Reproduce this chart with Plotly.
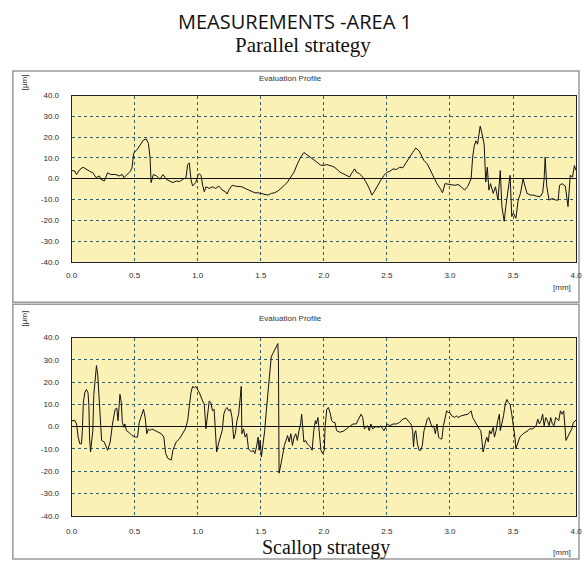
import plotly.graph_objects as go

# ---- data: Parallel strategy profile (x in mm, height in um) ----
par_x = [0.0, 0.026, 0.039, 0.065, 0.091, 0.117, 0.142, 0.168, 0.194, 0.220, 0.233, 0.259, 0.285, 0.311,
         0.350, 0.376, 0.402, 0.415, 0.440, 0.466, 0.479, 0.492, 0.518, 0.544, 0.570, 0.591, 0.609, 0.622,
         0.630, 0.648, 0.674, 0.699, 0.725, 0.751, 0.777, 0.803, 0.829, 0.855, 0.881, 0.907, 0.920, 0.933,
         0.946, 0.959, 0.984, 1.000,
         1.013, 1.026, 1.039, 1.052, 1.065, 1.091, 1.117, 1.142, 1.168, 1.194, 1.220, 1.233, 1.246, 1.272,
         1.298, 1.324, 1.350, 1.376, 1.402, 1.427, 1.453, 1.479, 1.505, 1.531, 1.557, 1.583, 1.609, 1.635,
         1.661, 1.687, 1.712, 1.738, 1.764, 1.790, 1.816, 1.842, 1.868, 1.894, 1.920, 1.946, 1.972, 1.997,
         2.023, 2.049, 2.075, 2.101, 2.127, 2.153, 2.179, 2.205, 2.218, 2.244, 2.256, 2.282, 2.308, 2.334,
         2.360, 2.381, 2.399, 2.425, 2.451, 2.477, 2.503,
         2.523, 2.549, 2.575, 2.601, 2.626, 2.652, 2.678, 2.704, 2.729, 2.755, 2.781, 2.794, 2.820, 2.845,
         2.871, 2.897, 2.923, 2.941, 2.961, 2.987, 3.013, 3.039, 3.064, 3.090, 3.116, 3.142, 3.168, 3.180,
         3.193, 3.206, 3.219, 3.232, 3.240, 3.253, 3.271, 3.284, 3.296, 3.309, 3.322, 3.343, 3.361, 3.381,
         3.399, 3.412, 3.430, 3.443, 3.456, 3.477, 3.490, 3.503, 3.523, 3.541, 3.559, 3.580, 3.593, 3.611,
         3.637, 3.662, 3.688, 3.714, 3.735, 3.747, 3.755, 3.768, 3.786, 3.812, 3.838, 3.858, 3.869, 3.889,
         3.915, 3.936, 3.954, 3.972, 3.987, 4.000]
par_y = [4.0, 3.6, 2.0, 4.4, 5.5, 4.4, 3.6, 2.8, 0.5, 1.3, -0.3, -1.1, 2.8, 2.0,
         2.0, 1.3, 2.0, 0.5, 2.0, 3.6, 5.2, 12.3, 13.9, 16.3, 18.6, 19.1, 17.0, 10.0,
         -1.9, 2.0, 1.3, -0.3, 2.0, -0.3, -1.1, -1.9, -1.1, -1.4, -0.3, 0.5, 6.8, 7.6,
         -0.3, -3.5, -1.9, 1.3,
         2.4, 1.6, -3.2, -6.3, -3.9, -4.7, -3.9, -4.7, -3.6, -5.5, -6.3, -7.4, -5.5, -3.2,
         -3.6, -3.6, -3.9, -4.7, -5.5, -6.3, -6.8, -6.8, -7.1, -7.6, -7.9, -7.1, -6.8, -6.0,
         -4.7, -3.2, -1.6, 0.8, 3.2, 7.1, 10.3, 12.6, 11.5, 10.3, 9.0, 7.9, 6.6, 6.3,
         6.8, 6.3, 5.8, 4.7, 3.2, 2.4, 1.6, 0.8, 2.4, 4.7, 3.2, 2.4, 0.8, -1.6,
         -4.7, -7.9, -6.3, -3.2, -0.8, 1.6, 3.2,
         3.5, 4.7, 4.4, 5.5, 5.2, 7.9, 10.3, 12.6, 14.7, 13.4, 10.3, 8.7, 7.1, 3.9,
         0.8, -2.4, -4.7, -6.8, -2.4, -2.7, -2.8, -3.2, -2.8, -3.9, -5.5, -3.6, 0.0, 10.3,
         15.8, 18.2, 16.6, 21.3, 25.3, 22.1, 16.6, -1.6, 5.5, -5.5, -2.4, -7.1, -3.9, -10.3,
         3.9, -13.4, -20.5, -13.4, -7.1, 1.6, -18.2, -16.6, -19.0, -10.3, -7.1, 0.0, -3.2, -7.1,
         -7.9, -7.9, -8.4, -8.7, -6.8, 0.0, 10.3, -3.9, -10.3, -9.5, -10.3, -10.3, -3.2, -2.4,
         -3.6, -13.4, 1.6, 0.8, 6.3, 3.9]

# ---- data: Scallop strategy profile (x in mm, height in um) ----
sca_x = [0.0, 0.026, 0.039, 0.052, 0.065, 0.078, 0.085, 0.093, 0.104, 0.117, 0.130, 0.137, 0.142, 0.150,
         0.161, 0.168, 0.176, 0.187, 0.197, 0.207, 0.215, 0.225, 0.238, 0.259, 0.285, 0.306, 0.324, 0.345,
         0.358, 0.368, 0.376, 0.383, 0.394, 0.402, 0.415, 0.422, 0.435, 0.453, 0.479, 0.505, 0.523, 0.536,
         0.549, 0.570, 0.583, 0.596, 0.609, 0.622, 0.635, 0.661, 0.687, 0.712, 0.731, 0.746, 0.764, 0.790,
         0.803, 0.816, 0.829, 0.855, 0.881, 0.902, 0.920, 0.933, 0.946, 0.959, 0.972, 0.984, 1.000,
         1.013, 1.039, 1.052, 1.065, 1.078, 1.091, 1.104, 1.117, 1.130, 1.142, 1.150, 1.168, 1.194, 1.207,
         1.220, 1.233, 1.246, 1.259, 1.272, 1.285, 1.298, 1.311, 1.324, 1.337, 1.345, 1.350, 1.363, 1.376,
         1.389, 1.402, 1.415, 1.427, 1.440, 1.453, 1.466, 1.479, 1.487, 1.495, 1.505, 1.518, 1.531, 1.544,
         1.557, 1.570, 1.583, 1.596, 1.609, 1.622, 1.635, 1.640, 1.642, 1.645, 1.661, 1.674, 1.687, 1.700,
         1.712, 1.725, 1.738, 1.751, 1.764, 1.777, 1.790, 1.803, 1.816, 1.824, 1.834, 1.842, 1.855, 1.868,
         1.881, 1.894, 1.907, 1.920, 1.933, 1.940, 1.953, 1.964, 1.977, 1.990, 2.003, 2.010, 2.023, 2.036,
         2.049, 2.062, 2.075, 2.088, 2.101, 2.127, 2.153, 2.179, 2.205, 2.231, 2.256, 2.269, 2.282, 2.295,
         2.308, 2.321, 2.347, 2.360, 2.373, 2.386, 2.412, 2.438, 2.451, 2.464, 2.477, 2.503,
         2.523, 2.549, 2.575, 2.601, 2.626, 2.652, 2.665, 2.678, 2.691, 2.704, 2.711, 2.719, 2.729, 2.742,
         2.755, 2.768, 2.781, 2.794, 2.807, 2.820, 2.832, 2.845, 2.858, 2.871, 2.884, 2.897, 2.910, 2.923,
         2.936, 2.948, 2.961, 2.974, 2.987, 3.000, 3.013, 3.026, 3.039, 3.052, 3.064, 3.090, 3.116, 3.142,
         3.155, 3.168, 3.180, 3.193, 3.206, 3.219, 3.232, 3.245, 3.253, 3.263, 3.278, 3.291, 3.304, 3.314,
         3.327, 3.343, 3.353, 3.366, 3.379, 3.392, 3.399, 3.412, 3.425, 3.438, 3.451, 3.464, 3.477, 3.490,
         3.503, 3.515, 3.523, 3.534, 3.554, 3.580, 3.606, 3.619, 3.631, 3.657, 3.683, 3.696, 3.709, 3.722,
         3.735, 3.747, 3.760, 3.773, 3.786, 3.799, 3.812, 3.825, 3.838, 3.863, 3.876, 3.889, 3.902, 3.910,
         3.920, 3.933, 3.946, 3.954, 3.966, 3.979, 4.000]
sca_y = [2.7, 2.7, 1.2, -4.7, -7.7, -7.7, -1.8, 10.8, 15.2, 16.7, 15.2, 9.3, -4.7, -11.4,
         -5.5, -1.8, 14.5, 21.8, 27.4, 23.3, 15.9, 4.1, -6.2, -6.9, -10.6, -6.9, 1.2, 7.8,
         8.3, 2.7, 7.8, 14.5, 10.8, 1.9, -0.3, 1.2, -1.8, -2.5, -4.0, -4.7, -4.7, 1.9,
         4.1, 7.8, 4.1, -3.2, -1.0, -1.8, -1.0, -1.8, -2.5, -3.2, -4.7, -12.1, -14.3, -15.0,
         -10.6, -9.1, -6.9, -5.5, -3.2, -1.0, 2.7, 8.6, 15.2, 18.1, 17.4, 18.1, 16.7,
         15.2, 11.5, 10.0, -1.0, 5.6, 11.5, 10.8, 7.1, 7.8, -6.2, -11.4, -6.9, -1.8, 5.6,
         7.8, 8.6, 7.1, 7.8, 4.1, -5.5, -3.2, 2.7, 5.6, 13.0, 18.1, -3.2, -1.0, -4.7,
         -3.2, -9.9, -10.6, -11.4, -10.6, -12.1, -9.1, -4.7, -10.6, -6.2, -13.6, -7.7, -1.8, 7.1,
         15.9, 24.8, 31.4, 32.9, 34.4, 35.8, 37.3, 30.7, 1.2, -20.9, -16.5, -12.1, -8.4, -6.2,
         -4.0, -6.9, -3.2, -8.4, -4.7, -3.2, -6.2, -1.8, 1.2, 5.6, -4.7, -6.9, -6.2, -7.7,
         -8.4, -9.1, -10.6, -1.8, 2.7, 1.2, 4.1, -1.8, -10.6, -12.1, -10.6, -0.3, 7.8, 8.6,
         6.3, 2.7, 1.9, 1.9, -1.8, -2.5, -2.1, -1.0, 0.0, 1.2, 1.2, 2.7, 4.1, 5.6,
         4.1, -1.0, 0.4, -1.8, 1.2, -1.0, 0.0, -0.3, 0.4, -1.0, -1.8, 1.2,
         0.4, 1.2, 1.2, 1.9, 3.4, 3.8, 2.7, 1.9, 1.2, -1.8, -9.1, -3.2, -1.8, -7.7,
         -10.6, -10.6, -8.4, -1.8, 0.4, 3.4, 4.1, 1.9, -0.3, 0.4, -3.2, 1.2, -4.7, -5.5,
         -5.5, 0.4, 4.1, 7.1, 6.3, 6.3, 4.9, 4.4, 4.1, 4.9, 4.1, 4.9, 5.3, 5.6,
         6.3, 7.1, 4.1, 2.7, 1.2, 0.4, -1.0, -1.8, -6.2, -11.4, -7.7, -4.7, -6.9, -1.8,
         -3.2, -0.3, -4.7, -1.8, 2.7, 5.6, -1.8, 1.2, 4.9, 10.0, 12.2, 10.8, 10.0, 5.6,
         1.2, -4.7, -9.9, -7.7, -4.7, -3.2, -2.5, -1.8, -1.0, -1.0, 0.4, 3.4, 1.2, 2.7,
         5.6, 0.4, 4.1, 2.7, 0.4, 4.1, 1.2, 0.4, 4.1, 2.7, 7.1, 5.6, 7.1, 1.2,
         -6.2, -4.7, -3.2, -1.8, -1.0, 1.9, 2.9]

x_ticks = [0.0, 0.5, 1.0, 1.5, 2.0, 2.5, 3.0, 3.5, 4.0]
y_ticks = [-40, -30, -20, -10, 0, 10, 20, 30, 40]
title_main = "MEASUREMENTS -AREA 1"
title_top = "Parallel strategy"
title_bottom = "Scallop strategy"
panel_title = "Evaluation Profile"

W, H = 585, 564
def px(v):
    return v / W
def py(v):
    return 1 - v / H

fig = go.Figure()
fig.add_trace(go.Scatter(x=par_x, y=par_y, mode="lines", line=dict(color="#111111", width=1),
                         xaxis="x", yaxis="y", showlegend=False, hoverinfo="skip"))
fig.add_trace(go.Scatter(x=sca_x, y=sca_y, mode="lines", line=dict(color="#111111", width=1),
                         xaxis="x2", yaxis="y2", showlegend=False, hoverinfo="skip"))

grid_col = "#2f5f70"
tickfont = dict(family="Liberation Sans", size=8, color="#2a2a2a")
common_x = dict(range=[0, 4], tickvals=x_ticks, ticktext=[f"{v:.1f}" for v in x_ticks],
                showgrid=True, gridcolor=grid_col, griddash="dot", gridwidth=1,
                showline=True, linecolor="#222222", linewidth=1, mirror=True,
                zeroline=False, ticks="", tickfont=tickfont, ticklabeloverflow="allow")
common_y = dict(range=[-40, 40], tickvals=y_ticks, ticktext=[f"{v:.1f}" for v in y_ticks],
                showgrid=True, gridcolor=grid_col, griddash="dot", gridwidth=1,
                showline=True, linecolor="#222222", linewidth=1, mirror=True,
                zeroline=True, zerolinecolor="#111111", zerolinewidth=1,
                ticks="", tickfont=tickfont, ticklabelstandoff=10)

fig.update_layout(
    width=W, height=H, margin=dict(l=0, r=0, t=0, b=0),
    paper_bgcolor="white", plot_bgcolor="#fbf1b4",
    xaxis=dict(domain=[px(67), px(582)], anchor="y", ticklabelstandoff=6, **common_x),
    yaxis=dict(domain=[py(262), py(93)], anchor="x", **common_y),
    xaxis2=dict(domain=[px(67), px(582)], anchor="y2", ticklabelstandoff=8, **common_x),
    yaxis2=dict(domain=[py(520), py(339)], anchor="x2", **common_y),
)

shapes = [
    dict(type="rect", xref="paper", yref="paper", x0=px(7), x1=px(585), y0=py(303), y1=py(68),
         line=dict(color="#999999", width=1.5), layer="below"),
    dict(type="rect", xref="paper", yref="paper", x0=px(7), x1=px(585), y0=py(564), y1=py(305),
         line=dict(color="#999999", width=1.5), layer="below"),
]
fig.update_layout(shapes=shapes)

def note(text, x, y, font, angle=0):
    return dict(text=text, x=px(x), y=py(y), xref="paper", yref="paper", showarrow=False,
                xanchor="center", yanchor="middle", textangle=angle, font=font)

ann = []
ann.append(note(title_main, 295, 18, dict(family="Open Sans", size=20, color="#111111")))
ann.append(note(title_top, 303, 42, dict(family="Liberation Serif", size=21, color="#111111")))
ann.append(note(title_bottom, 327, 552, dict(family="Liberation Serif", size=20, color="#111111")))
for yy in (76, 320):
    ann.append(note(panel_title, 290, yy, dict(family="Liberation Sans", size=8, color="#333333")))
for yy in (80, 320):
    ann.append(note("[μm]", 19, yy, dict(family="Liberation Sans", size=8, color="#333333"), angle=-90))
for yy in (288, 557):
    ann.append(note("[mm]", 568, yy, dict(family="Liberation Sans", size=8, color="#333333")))
fig.update_layout(annotations=ann)

fig.write_html("out.html")
